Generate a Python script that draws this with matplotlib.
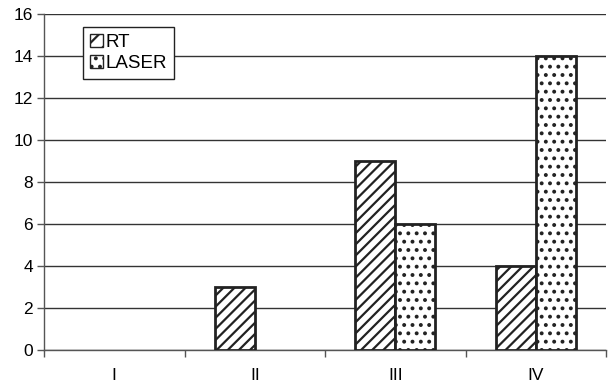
import numpy as np
import matplotlib
matplotlib.use('Agg')
import matplotlib.pyplot as plt
from matplotlib.patches import Patch

# Data
categories = ['I', 'II', 'III', 'IV']
rt = [0, 3, 9, 4]
laser = [0, 0, 6, 14]
y_ticks = [0, 2, 4, 6, 8, 10, 12, 14, 16]

plt.rcParams['font.family'] = ['Liberation Sans', 'DejaVu Sans']
plt.rcParams['hatch.linewidth'] = 1.6

fig = plt.figure(figsize=(6.08, 3.88), dpi=100)
ax = fig.add_axes([44/608, 38/388, 562/608, 336/388])

x = np.arange(len(categories))
w = 0.285
b1 = ax.bar(x - w/2, rt, w, color='white', edgecolor='#222222', hatch='///', linewidth=2, zorder=3)
b2 = ax.bar(x + w/2, laser, w, color='white', edgecolor='#222222', hatch='..', linewidth=2, zorder=3)
# empty bars are not drawn
for p in list(b1) + list(b2):
    if p.get_height() == 0:
        p.set_visible(False)

ax.set_xlim(-0.5, len(categories) - 0.5)
ax.set_ylim(0, 16)
ax.set_yticks(y_ticks)
ax.set_xticks(x)
ax.set_xticklabels(categories)
ax.set_xticks(np.arange(len(categories) + 1) - 0.5, minor=True)
ax.tick_params(axis='x', which='major', length=0, pad=13, labelsize=12.5)
ax.tick_params(axis='x', which='minor', length=5, width=1, color='#555555', direction='out')
ax.tick_params(axis='y', length=5, width=1, color='#555555', direction='out', labelsize=12.5, pad=3)

ax.yaxis.grid(True, color='#333333', linewidth=1, zorder=0)
ax.set_axisbelow(True)
for s in ['top', 'right']:
    ax.spines[s].set_visible(False)
ax.spines['left'].set_color('#555555')
ax.spines['bottom'].set_color('#555555')
ax.spines['left'].set_linewidth(1)
ax.spines['bottom'].set_linewidth(1)

handles = [Patch(facecolor='white', edgecolor='#222222', hatch='//', linewidth=1),
           Patch(facecolor='white', edgecolor='#222222', hatch='..', linewidth=1)]
leg = ax.legend(handles, ['RT', 'LASER'], loc='upper left', bbox_to_anchor=(0.07, 0.96),
                fontsize=13.5, fancybox=False, framealpha=1, edgecolor='#222222',
                handlelength=0.7, handleheight=0.7, handletextpad=0.15,
                borderpad=0.35, labelspacing=0.2, borderaxespad=0)
leg.get_frame().set_linewidth(1)

fig.savefig('out.png', dpi=100)
